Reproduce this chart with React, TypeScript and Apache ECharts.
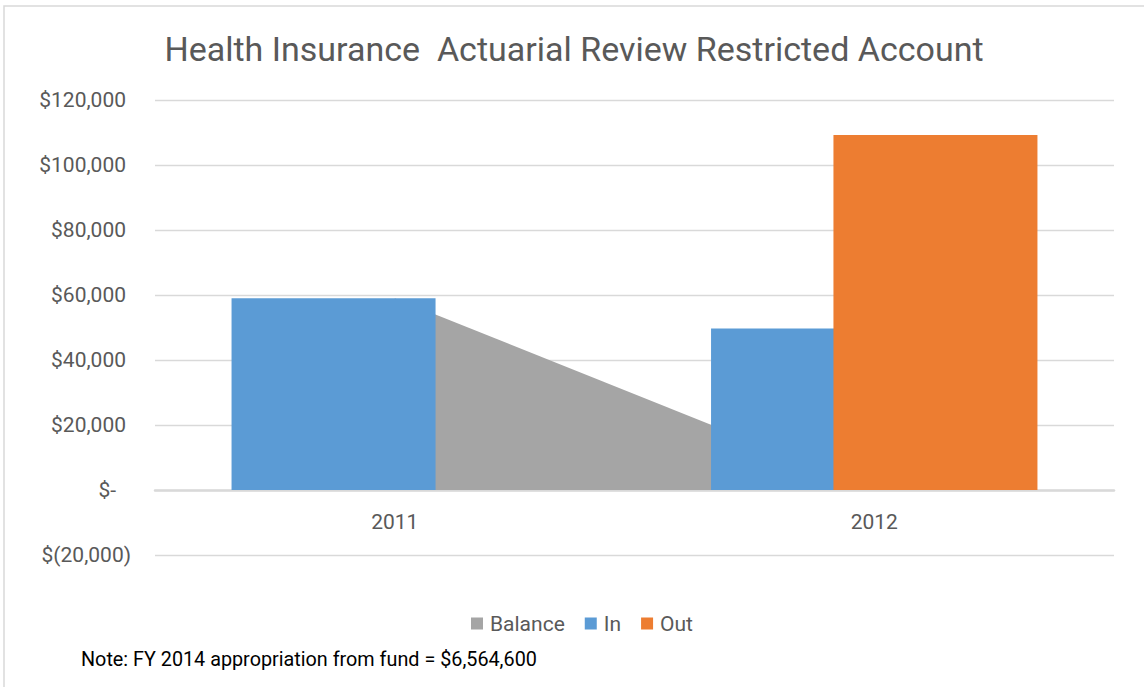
import React, { useEffect, useRef } from "react";
import * as echarts from "echarts";

const categories = ["2011", "2012"];
const balanceValues = [59000, 0];
const inValues = [59000, 49700];
const outValues = [0, 109200];
const legendNames = ["Balance", "In", "Out"];
const titleText = "Health Insurance  Actuarial Review Restricted Account";
const noteText = "Note: FY 2014 appropriation from fund = $6,564,600";

const FONT = "Roboto, sans-serif";
const LABEL = "#595959";
const GRID = "#d9d9d9";

function fmt(v: number): string {
  if (v === 0) return "{z|$-}";
  if (v < 0) return "{n|$(" + Math.abs(v).toLocaleString("en-US") + ")}";
  return "{p|$" + v.toLocaleString("en-US") + "}";
}

export default function App() {
  const ref = useRef<HTMLDivElement>(null);
  useEffect(() => {
    if (!ref.current) return;
    const chart = echarts.init(ref.current, undefined, { renderer: "svg" });
    const rs = { fontSize: 21, color: LABEL, fontFamily: FONT };
    chart.setOption({
      animation: false,
      backgroundColor: "#ffffff",
      textStyle: { fontFamily: FONT },
      graphic: [
        {
          type: "rect",
          shape: { x: 4, y: 6, width: 1200, height: 700 },
          style: { fill: "none", stroke: GRID, lineWidth: 1.5 },
          silent: true,
        },
        {
          type: "text",
          x: 574,
          y: 49,
          style: {
            text: titleText,
            fontSize: 34,
            fontFamily: FONT,
            fill: LABEL,
            align: "center",
            verticalAlign: "middle",
          },
        },
        {
          type: "text",
          x: 81,
          y: 659,
          style: {
            text: noteText,
            fontSize: 19.8,
            fontFamily: FONT,
            fill: "#000000",
            align: "left",
            verticalAlign: "middle",
          },
        },
      ],
      legend: {
        data: legendNames,
        icon: "rect",
        itemWidth: 12,
        itemHeight: 12,
        itemGap: 20,
        left: 466,
        top: 608,
        textStyle: {
          fontSize: 21,
          color: LABEL,
          fontFamily: FONT,
          padding: [0, 0, 0, 2],
        },
      },
      grid: { left: 155, right: 30, top: 100, bottom: 132 },
      xAxis: {
        type: "category",
        data: categories,
        offset: -65,
        axisTick: { show: false },
        axisLine: { onZero: false, lineStyle: { color: GRID, width: 2.5 } },
        axisLabel: { fontSize: 21, color: LABEL, fontFamily: FONT, margin: 21 },
      },
      yAxis: {
        type: "value",
        min: -20000,
        max: 120000,
        interval: 20000,
        axisLine: { show: false },
        axisTick: { show: false },
        splitLine: { lineStyle: { color: GRID, width: 1.3 } },
        axisLabel: {
          margin: 24,
          formatter: (v: number) => fmt(v),
          fontSize: 21,
          color: LABEL,
          fontFamily: FONT,
          rich: {
            p: { ...rs, padding: [0, 5, 0, 0] },
            z: { ...rs, padding: [0, 15, 0, 0] },
            n: { ...rs },
          },
        },
      },
      series: [
        {
          name: "Balance",
          type: "line",
          data: balanceValues,
          symbol: "none",
          lineStyle: { width: 0 },
          areaStyle: { color: "#A5A5A5", opacity: 1 },
          itemStyle: { color: "#A5A5A5" },
          z: 1,
        },
        {
          name: "In",
          type: "bar",
          data: inValues,
          barWidth: 204,
          barGap: "-40%",
          itemStyle: { color: "#5B9BD5" },
          z: 2,
        },
        {
          name: "Out",
          type: "bar",
          data: outValues,
          barWidth: 204,
          barGap: "-40%",
          itemStyle: { color: "#ED7D31" },
          z: 3,
        },
      ],
    });
    return () => chart.dispose();
  }, []);
  return (
    <div
      ref={ref}
      style={{ position: "absolute", left: 0, top: 0, width: 1144, height: 687 }}
    />
  );
}
